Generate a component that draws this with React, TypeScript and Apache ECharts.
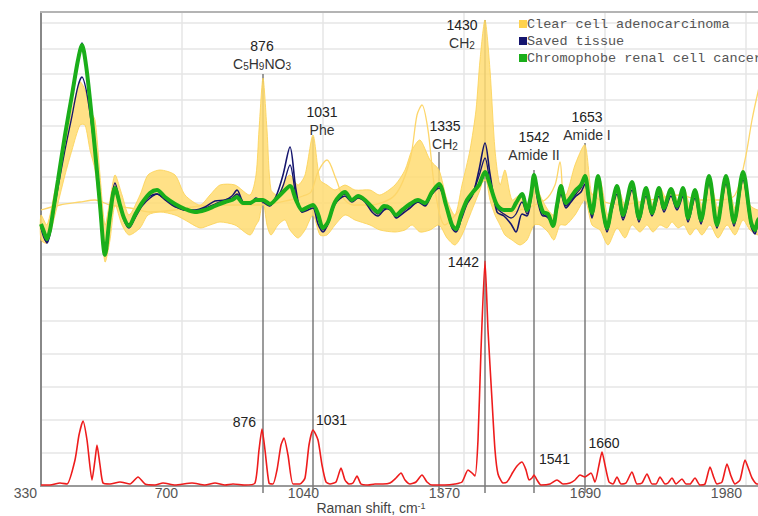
import React, { useEffect, useRef } from 'react';
import * as echarts from 'echarts';

// ---- axis ----
const tickLabels = ['330', '700', '1040', '1370', '1690', '1980'];
const tickStep = 141; // detector channels between labelled ticks
const channelMax = 730;
const upperMax = 242;
const upperStep = 25.7;
const lowerMax = 232;
const lowerStep = 33;

// ---- spectra (channel, intensity a.u.) ----
const chromophobe = [[0,30],[3,22],[6,15],[9,24],[12,42],[17,74],[24,119],[31,159],[37,194],[41,209],[45,189],[49,154],[54,104],[59,49],[64,-1],[69,39],[74,66],[79,49],[83,36],[88,28],[94,39],[101,51],[109,61],[116,64],[124,57],[134,50],[144,45],[154,42],[164,44],[174,48],[184,52],[191,54],[196,57],[202,51],[209,51],[215,54],[222,54],[229,50],[236,56],[242,62],[249,68],[255,54],[261,44],[267,47],[272,49],[277,40],[282,26],[287,32],[294,52],[304,62],[311,54],[317,58],[324,54],[331,47],[337,42],[343,48],[349,46],[355,39],[361,44],[369,50],[377,54],[384,51],[391,62],[398,70],[405,49],[411,29],[415,25],[420,39],[426,54],[432,62],[438,69],[444,82],[449,69],[456,49],[463,44],[470,44],[475,51],[481,60],[486,44],[490,59],[493,79],[497,59],[502,42],[507,40],[512,28],[516,49],[520,68],[525,51],[530,57],[535,64],[540,69],[544,78],[548,54],[551,41],[557,78],[562,44],[566,26],[571,49],[576,68],[582,39],[591,72],[598,36],[605,66],[611,41],[618,66],[623,46],[630,65],[636,48],[642,66],[647,36],[654,64],[660,34],[668,78],[676,29],[685,78],[693,32],[702,82],[710,32],[714,24],[717,34],[724,40],[730,50]];

const savedTissueA = [[0,28],[3,18],[6,11],[9,20],[12,40],[17,72],[24,118],[31,160],[37,196],[41,211],[45,190],[49,154],[54,104],[59,50],[64,2],[69,45],[74,71],[79,50],[83,34],[88,26],[94,36],[101,48],[109,56],[116,60],[124,55],[134,48],[144,44],[154,44],[164,47],[174,53],[184,54],[191,58],[196,64],[202,52],[209,50],[215,56],[222,52],[229,48],[236,60],[242,79],[249,107],[255,64],[261,42],[267,44],[272,46],[277,30],[282,22],[287,30],[294,50],[304,58],[311,52],[317,56],[324,52],[331,42],[337,38],[343,44],[349,46],[355,36],[361,40],[369,46],[377,52],[384,48],[391,60],[398,66],[405,48],[411,26],[415,22],[420,34],[426,50],[432,60],[438,84],[444,111],[449,80],[456,42],[463,38],[470,30],[475,22],[481,40],[486,38],[490,55],[493,75],[497,52],[502,38],[507,38],[512,30],[516,44],[520,60],[525,46],[530,52],[535,58],[540,62],[544,70],[548,50],[551,36],[557,70],[562,40],[566,22],[571,44],[576,60],[582,34],[591,64],[598,32],[605,58],[611,38],[618,58],[623,42],[630,58],[636,44],[642,58],[647,32],[654,56],[660,30],[668,70],[676,26],[685,70],[693,28],[702,74],[710,28],[714,20],[717,30],[724,36],[730,46]];

const savedTissueB = [[0,26],[3,16],[6,12],[9,22],[12,38],[17,66],[24,104],[31,138],[37,168],[41,177],[45,165],[49,140],[54,100],[59,50],[64,4],[69,40],[74,62],[79,48],[83,35],[88,30],[94,40],[101,50],[109,58],[116,60],[124,54],[134,47],[144,44],[154,43],[164,46],[174,50],[184,54],[191,56],[196,60],[202,52],[209,50],[215,55],[222,53],[229,50],[236,56],[242,68],[249,89],[255,58],[261,42],[267,46],[272,48],[277,36],[282,24],[287,30],[294,50],[304,60],[311,53],[317,57],[324,53],[331,45],[337,40],[343,46],[349,44],[355,38],[361,42],[369,48],[377,52],[384,50],[391,60],[398,68],[405,47],[411,27],[415,24],[420,38],[426,52],[432,62],[438,78],[444,96],[449,72],[456,46],[463,40],[470,36],[475,40],[481,52],[486,40],[490,56],[493,76],[497,56],[502,40],[507,36],[512,30],[516,46],[520,64],[525,48],[530,54],[535,60],[540,66],[544,74],[548,52],[551,38],[557,74],[562,42],[566,24],[571,46],[576,64],[582,36],[591,68],[598,34],[605,62],[611,40],[618,62],[623,44],[630,62],[636,46],[642,62],[647,34],[654,60],[660,32],[668,74],[676,28],[685,74],[693,30],[702,78],[710,30],[714,22],[717,32],[724,38],[730,48]];

// clear cell adenocarcinoma spectra envelope: [channel, low, high]
const clearCellBand = [[0,14,39],[6,11,29],[14,39,64],[24,79,109],[31,104,144],[39,129,172],[44,129,164],[49,104,144],[54,84,134],[59,39,79],[64,-8,29],[69,14,54],[74,49,79],[81,29,59],[88,19,39],[99,26,59],[107,39,79],[119,42,84],[134,39,79],[144,34,59],[159,26,49],[169,29,59],[179,32,69],[194,29,69],[209,19,59],[215,29,79],[218,34,124],[222,54,176],[226,29,124],[230,19,64],[237,29,59],[244,34,74],[249,24,79],[257,16,69],[264,24,79],[272,39,119],[279,19,74],[286,19,69],[294,29,64],[304,39,69],[314,34,64],[329,29,64],[339,24,59],[354,22,69],[364,24,84],[371,29,104],[379,22,114],[389,24,94],[398,29,84],[406,16,54],[414,9,39],[421,19,69],[429,39,104],[435,54,144],[439,64,194],[444,79,234],[449,54,184],[454,39,104],[459,29,69],[464,19,84],[471,14,54],[479,9,59],[486,14,49],[493,29,79],[499,29,59],[507,22,44],[513,14,39],[519,29,69],[525,29,59],[534,39,89],[544,54,109],[551,29,59],[559,24,74],[567,9,39],[576,26,69],[584,16,49],[591,29,71],[599,22,49],[606,29,66],[612,22,49],[619,29,66],[626,26,54],[631,32,66],[637,26,54],[643,29,66],[649,19,49],[655,26,64],[661,19,49],[669,29,74],[677,16,46],[686,29,74],[694,19,46],[702,34,79],[709,24,49],[717,19,44],[730,20,45]];

const clearCellOutlier = [[0,44],[19,49],[39,52],[54,54],[69,49],[89,46],[109,42],[134,44],[159,48],[189,49],[219,49],[249,54],[262,58],[270,62],[277,82],[286,94],[295,75],[303,55],[312,49],[329,49],[354,59],[369,94],[376,139],[381,149],[387,124],[394,64],[404,29],[419,44],[429,54],[444,74],[459,39],[479,44],[504,54],[514,69],[519,92],[525,49],[544,64],[559,54],[579,49],[609,54],[639,59],[659,54],[679,54],[694,59],[704,94],[711,134],[717,162],[724,190],[730,205]];

// reference (lower) spectrum
const referenceSpectrum = [[0,1],[9,1],[19,3],[26,2],[34,26],[38,51],[42,65],[46,46],[51,6],[54,26],[56,41],[59,21],[62,3],[69,2],[79,4],[89,2],[97,9],[104,2],[114,1],[122,3],[134,1],[151,3],[164,1],[174,3],[184,1],[192,2],[204,1],[214,3],[218,36],[221,57],[224,36],[228,3],[232,2],[236,16],[240,41],[243,48],[247,31],[252,2],[259,2],[264,8],[268,41],[272,56],[277,46],[281,21],[285,4],[289,2],[295,4],[300,18],[304,6],[308,2],[312,3],[316,10],[320,2],[327,1],[334,2],[342,2],[349,3],[355,8],[360,13],[364,6],[369,2],[375,4],[381,11],[386,4],[391,1],[404,1],[414,2],[421,4],[427,16],[431,13],[434,10],[437,46],[440,136],[444,225],[447,156],[451,86],[454,36],[457,12],[462,3],[466,4],[472,14],[476,20],[481,24],[485,16],[488,6],[491,8],[493,11],[496,6],[500,1],[509,2],[516,6],[522,2],[529,3],[534,6],[539,11],[544,9],[550,13],[554,4],[558,21],[561,34],[564,21],[568,4],[572,2],[576,9],[580,2],[585,3],[591,14],[596,2],[601,3],[606,12],[611,2],[615,2],[619,9],[624,2],[627,3],[631,8],[635,2],[641,7],[645,2],[649,2],[654,8],[659,1],[664,2],[669,19],[673,8],[676,2],[681,4],[686,22],[690,10],[694,2],[699,6],[704,26],[708,16],[711,8],[716,2],[722,2],[730,3]];

// ---- band assignments ----
const bandNames = ['876', '1031', '1335', '1430', '1542', '1653'];
const bandGroups = ['C{sub|5}H{sub|9}NO{sub|3}', 'Phe', 'CH{sub|2}', 'CH{sub|2}', 'Amide II', 'Amide I'];
const bandChannels = [222, 272, 398, 444, 493, 544];
const bandTops = [180, 117, 102, 234, 84, 111];

const peakNames = ['876', '1031', '1442', '1541', '1660'];
const peakChannels = [221, 272, 444, 493, 561];
const peakValues = [57, 56, 225, 11, 34];

// ---- label styling (pixel offsets) ----
const bandLabelOffsets = [[-1, -28], [9, -25], [6, -26], [-23, 5], [0, -33], [2, -26]];
const peakLabelStyle: [string, number, number][] = [['right', -6, -7], ['left', 3, -10], ['right', -6, 1], ['left', 5, -16], ['center', 2, -9]];

const YELLOW = '#ffd24d';
const NAVY = '#15156e';
const GREEN = '#1aae1a';
const RED = '#ee1c1c';

export default function App() {
  const ref = useRef<HTMLDivElement>(null);
  useEffect(() => {
    const chart = echarts.init(ref.current!, null, { renderer: 'svg' });
    const sans = '"Liberation Sans", Arial, sans-serif';
    const gridColor = '#e6e6e6';
    const subRich = {
      sub: { fontSize: 10, fontFamily: sans, fill: '#333', verticalAlign: 'bottom' },
    };
    const upperLine = {
      type: 'line', xAxisIndex: 0, yAxisIndex: 0, showSymbol: false, symbol: 'none',
      smooth: 0.3, clip: false, silent: true,
    };

    const option: any = {
      animation: false,
      grid: [
        { left: 41, width: 730, top: 12, height: 242 },
        { left: 41, width: 730, top: 254, height: 232 },
      ],
      legend: {
        left: 519, top: 17, orient: 'vertical', padding: 0,
        itemWidth: 8, itemHeight: 8, itemGap: 3, icon: 'rect',
        data: ['Clear cell adenocarcinoma', 'Saved tissue', 'Chromophobe renal cell cancer'],
        textStyle: { fontFamily: '"Liberation Mono", "DejaVu Sans Mono", monospace', fontSize: 13.5, color: '#555', lineHeight: 14, padding: [0, 0, 0, -5] },
      },
      xAxis: [
        {
          type: 'value', gridIndex: 0, min: 0, max: channelMax, interval: tickStep, position: 'top',
          axisLine: { show: true, onZero: false, lineStyle: { color: '#b4b4b4', width: 2 } },
          axisTick: { show: false }, axisLabel: { show: false },
          splitLine: { show: true, lineStyle: { color: gridColor, width: 1.5 } },
        },
        {
          type: 'value', gridIndex: 1, min: 0, max: channelMax, interval: tickStep, position: 'bottom',
          axisLine: { show: true, onZero: false, lineStyle: { color: '#999', width: 2 } },
          axisTick: { show: false },
          axisLabel: {
            align: 'right', margin: 0, padding: [0, 4, 0, 0], fontSize: 14, color: '#555', fontFamily: sans,
            showMaxLabel: false,
            formatter: (v: number) => (v % tickStep === 0 && tickLabels[v / tickStep]) || '',
          },
          splitLine: { show: true, lineStyle: { color: gridColor, width: 1.5 } },
          name: 'Raman shift, cm{sup|-1}', nameLocation: 'middle', nameGap: 15,
          nameTextStyle: {
            fontSize: 14, color: '#444', fontFamily: sans, padding: [0, 70, 0, 0],
            rich: { sup: { fontSize: 9, color: '#444', fontFamily: sans, verticalAlign: 'top' } },
          },
        },
      ],
      yAxis: [
        {
          type: 'value', gridIndex: 0, min: 0, max: upperMax, interval: upperStep,
          axisLine: { show: true, onZero: false, lineStyle: { color: '#888', width: 2 } },
          axisTick: { show: false }, axisLabel: { show: false },
          splitLine: { show: true, lineStyle: { color: gridColor, width: 1.5 } },
        },
        {
          type: 'value', gridIndex: 1, min: 0, max: lowerMax, interval: lowerStep,
          axisLine: { show: true, onZero: false, lineStyle: { color: '#888', width: 2 } },
          axisTick: { show: false }, axisLabel: { show: false },
          splitLine: { show: true, lineStyle: { color: gridColor, width: 1.5 } },
        },
      ],
      series: [
        // band marker lines, upper panel
        {
          type: 'custom', xAxisIndex: 0, yAxisIndex: 0, z: 1, clip: false, silent: true,
          data: bandChannels.map((c, i) => [c, bandTops[i], i]),
          renderItem: (_p: any, api: any) => {
            const top = api.coord([api.value(0), api.value(1)]);
            const base = api.coord([api.value(0), 0]);
            return { type: 'line', shape: { x1: top[0], y1: top[1], x2: base[0], y2: base[1] }, style: { stroke: '#7a7a7a', lineWidth: 1.5 } };
          },
        },
        // band marker lines, lower panel
        {
          type: 'custom', xAxisIndex: 1, yAxisIndex: 1, z: 1, clip: false, silent: true,
          data: bandChannels.map((c, i) => [c, lowerMax, i]),
          renderItem: (_p: any, api: any) => {
            const top = api.coord([api.value(0), api.value(1)]);
            const base = api.coord([api.value(0), 0]);
            return { type: 'line', shape: { x1: top[0], y1: top[1], x2: base[0], y2: base[1] + 7 }, style: { stroke: '#7a7a7a', lineWidth: 1.5 } };
          },
        },
        // clear cell envelope
        {
          type: 'custom', name: 'Clear cell adenocarcinoma', xAxisIndex: 0, yAxisIndex: 0, z: 2, clip: false, silent: true,
          color: YELLOW, itemStyle: { color: YELLOW },
          data: [[0, 0]],
          renderItem: (_p: any, api: any) => {
            const top = clearCellBand.map((d) => api.coord([d[0], d[2]]));
            const bottom = clearCellBand.slice().reverse().map((d) => api.coord([d[0], d[1]]));
            return {
              type: 'polygon', shape: { points: top.concat(bottom), smooth: 0.25 },
              style: { fill: '#ffdc72', stroke: '#fbd257', lineWidth: 1, opacity: 0.85 },
            };
          },
        },
        { ...upperLine, name: 'Clear cell adenocarcinoma', z: 3, color: YELLOW, data: clearCellOutlier, lineStyle: { color: '#fdd66a', width: 1.3 } },
        { ...upperLine, name: 'Saved tissue', z: 4, color: NAVY, data: savedTissueB, lineStyle: { color: NAVY, width: 1.3 } },
        { ...upperLine, name: 'Saved tissue', z: 4, color: NAVY, data: savedTissueA, lineStyle: { color: NAVY, width: 1.6 } },
        { ...upperLine, name: 'Chromophobe renal cell cancer', z: 5, color: GREEN, data: chromophobe, lineStyle: { color: GREEN, width: 4 } },
        // reference spectrum
        {
          type: 'line', name: 'Reference', xAxisIndex: 1, yAxisIndex: 1, z: 5, showSymbol: false, symbol: 'none',
          smooth: 0.2, silent: true, color: RED, data: referenceSpectrum, lineStyle: { color: RED, width: 1.6 },
        },
        // upper band labels
        {
          type: 'custom', xAxisIndex: 0, yAxisIndex: 0, z: 20, clip: false, silent: true,
          data: bandChannels.map((c, i) => [c, bandTops[i], i]),
          renderItem: (_p: any, api: any) => {
            const i = api.value(2);
            const top = api.coord([api.value(0), api.value(1)]);
            const [dx, dy] = bandLabelOffsets[i];
            return {
              type: 'group',
              children: [
                { type: 'text', x: top[0] + dx, y: top[1] + dy, style: { text: bandNames[i], fill: '#222', fontSize: 14, fontFamily: sans, align: 'center', verticalAlign: 'middle' } },
                { type: 'text', x: top[0] + dx, y: top[1] + dy + 18, style: { text: bandGroups[i], fill: '#333', fontSize: 14, fontFamily: sans, align: 'center', verticalAlign: 'middle', rich: subRich } },
              ],
            };
          },
        },
        // lower peak labels
        {
          type: 'custom', xAxisIndex: 1, yAxisIndex: 1, z: 20, clip: false, silent: true,
          data: peakChannels.map((c, i) => [c, peakValues[i], i]),
          renderItem: (_p: any, api: any) => {
            const i = api.value(2);
            const p = api.coord([api.value(0), api.value(1)]);
            const [align, dx, dy] = peakLabelStyle[i];
            return { type: 'text', x: p[0] + dx, y: p[1] + dy, style: { text: peakNames[i], fill: '#222', fontSize: 14, fontFamily: sans, align, verticalAlign: 'middle' } };
          },
        },
      ],
    };
    chart.setOption(option);
    return () => chart.dispose();
  }, []);
  return (
    <div style={{ position: 'absolute', left: 0, top: 0, width: 758, height: 516, overflow: 'hidden' }}>
      <div ref={ref} style={{ width: 772, height: 516 }} />
    </div>
  );
}
